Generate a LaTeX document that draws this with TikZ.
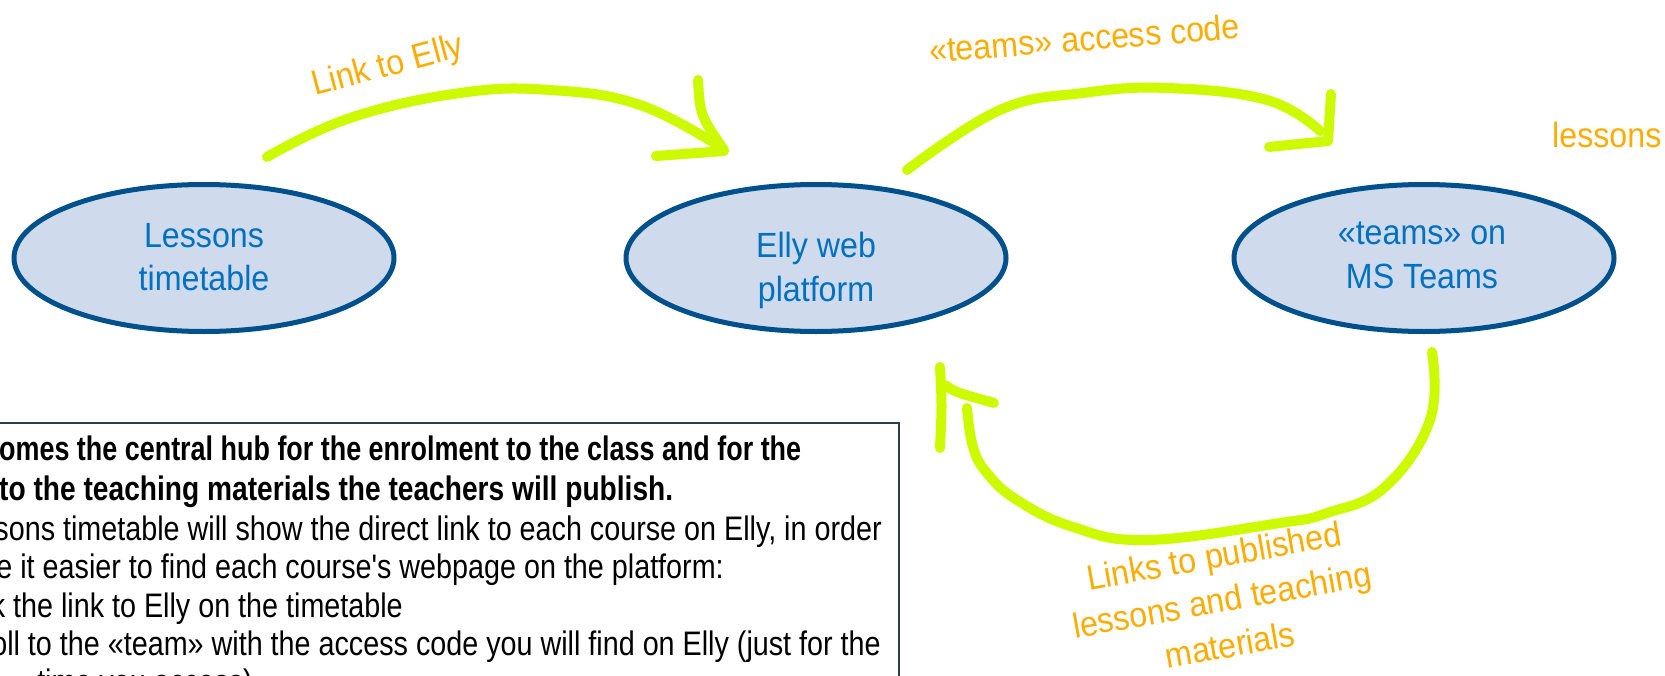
\documentclass[tikz,border=0pt]{standalone}
\usepackage{graphicx}
\usepackage{fontspec}
\setmainfont{Liberation Sans}
\newfontfamily\lblfont[FakeStretch=0.92]{Liberation Sans}
\newfontfamily\condfont[FakeStretch=0.845]{Liberation Sans}
\usetikzlibrary{shapes.geometric}
\definecolor{hlgreen}{RGB}{205,250,0}
\definecolor{amber}{RGB}{255,172,0}
\definecolor{ellfill}{RGB}{207,219,236}
\definecolor{elldraw}{RGB}{0,80,140}
\definecolor{elltext}{RGB}{0,112,192}
\definecolor{boxdraw}{RGB}{47,58,75}
\newlength\fitlen
\newcommand\fitw[2]{\settowidth\fitlen{#2}\scalebox{\fpeval{(#1)/\fitlen}}[1]{#2}}
\begin{document}
\begin{tikzpicture}[x=1bp,y=-1bp,
  hub/.style={ellipse, draw=elldraw, fill=ellfill, line width=5bp, minimum width=380bp, minimum height=147bp, inner sep=0pt},
  hubtext/.style={text=elltext, font=\lblfont\fontsize{35bp}{44bp}\selectfont, inner sep=0pt, anchor=base},
  lbl/.style={text=amber, font=\lblfont\fontsize{35bp}{44bp}\selectfont, inner sep=0pt},
  stroke/.style={draw=hlgreen, line width=10bp, line cap=round, line join=round},
  boxline/.style={font=\condfont\fontsize{34bp}{39bp}\selectfont, inner sep=0pt, anchor=base east},
  boxbold/.style={font=\fontsize{34bp}{39bp}\selectfont\bfseries, inner sep=0pt, anchor=base west},
]
\useasboundingbox (0,0) rectangle (1665,676);
\clip (0,0) rectangle (1665,676);

% hubs
\node[hub] (e1) at (204,258) {};
\node[hub] (e2) at (816,258) {};
\node[hub] (e3) at (1424,258) {};
\node[hubtext] (t1a) at (204,247) {Lessons};
\node[hubtext] (t1b) at (204,290) {timetable};
\node[hubtext] (t2a) at (816,257) {Elly web};
\node[hubtext] (t2b) at (816,301) {platform};
\node[hubtext] (t3a) at (1422,244) {«teams» on};
\node[hubtext] (t3b) at (1422,288) {MS Teams};

% labels
\node[lbl, anchor=base west, rotate=15] (l1) at (315,96) {Link to Elly};
\node[lbl, anchor=base west, rotate=4.5] (l2) at (930,63) {«teams» access code};
\node[lbl, anchor=base west] (l3) at (1552,148) {lessons};
\node[lbl, anchor=base, rotate=10] (l4a) at (1216,568) {Links to published};
\node[lbl, anchor=base, rotate=10] (l4b) at (1224,612) {lessons and teaching};
\node[lbl, anchor=base, rotate=10] (l4c) at (1232,657) {materials};

% arrow 1: timetable -> Elly
\draw[stroke] plot[smooth, tension=0.7] coordinates {(267,157) (350,118) (460,93) (550,90) (640,105) (722,148)};
\draw[stroke] (698,80) .. controls (700,115) .. (724,150);
\draw[stroke] (656,156) -- (724,151);

% arrow 2: Elly -> teams
\draw[stroke] plot[smooth, tension=0.7] coordinates {(907,170) (1000,110) (1083,93) (1167,88) (1267,100) (1320,131)};
\draw[stroke] (1331,94) -- (1328,141);
\draw[stroke] (1269,147) -- (1328,141);

% arrow 3: teams -> Elly
\draw[stroke] plot[smooth, tension=0.7] coordinates {(1432,352) (1430,420) (1385,487) (1327,513) (1280,523) (1147,540) (1073,527) (1017,500) (987,473) (973,447) (967,408)};
\draw[stroke] (940,367) .. controls (942,405) .. (940,448);
\draw[stroke] (945,385) .. controls (955,392) .. (994,403);

% text box
\node[draw=boxdraw, line width=2bp, minimum width=920bp, minimum height=300bp, inner sep=0pt, anchor=north east] (box) at (900,422) {};
\node[boxbold] (b1) at (-1,460) {\fitw{802bp}{omes the central hub for the enrolment to the class and for the}};
\node[boxbold] (b2) at (-1,500) {\fitw{674bp}{to the teaching materials the teachers will publish.}};
\node[boxline] (b3) at (882,540) {sons timetable will show the direct link to each course on Elly, in order};
\node[boxline] (b4) at (724,578) {e it easier to find each course's webpage on the platform:};
\node[boxline] (b5) at (403,617) {k the link to Elly on the timetable};
\node[boxline] (b6) at (881,655) {oll to the «team» with the access code you will find on Elly (just for the};
\node[boxline] (b7) at (253,693) {time you access)};
\end{tikzpicture}
\end{document}
